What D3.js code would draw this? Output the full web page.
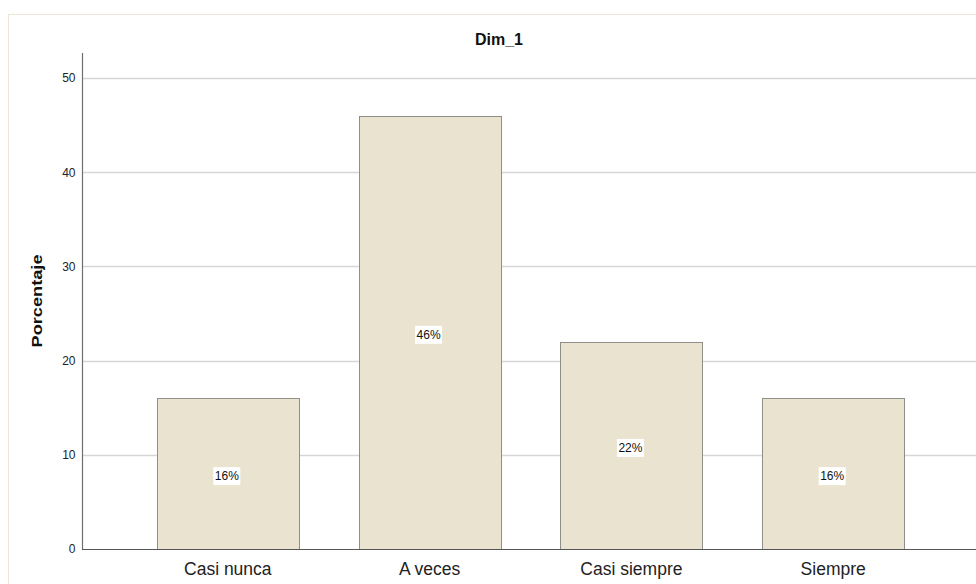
<!DOCTYPE html>
<html>
<head>
<meta charset="utf-8">
<script src="https://cdn.jsdelivr.net/npm/d3@7"></script>
<style>
  html, body { margin: 0; padding: 0; background: #ffffff; }
  svg { display: block; font-family: Arial, "Liberation Sans", sans-serif; }
</style>
</head>
<body>
<svg id="chart" width="976" height="584"></svg>
<script>
// Frequency distribution of Dim_1 (percent of respondents)
const categories = ["Casi nunca", "A veces", "Casi siempre", "Siempre"];
const percents = [16, 46, 22, 16];
const yTicks = [0, 10, 20, 30, 40, 50];

const svg = d3.select("#chart");
const W = 976, H = 584;
const FONT = "Arial, 'Liberation Sans', sans-serif";

// Outer chart frame
svg.append("rect")
  .attr("x", 8.5).attr("y", 14.5)
  .attr("width", 990).attr("height", 600)
  .attr("fill", "#ffffff")
  .attr("stroke", "#ebe6d6")
  .attr("stroke-width", 1);

const plot = { left: 82, right: 979, top: 53, bottom: 549 };

const x = d3.scaleBand()
  .domain(categories)
  .range([plot.left, plot.right])
  .paddingInner(0.297)
  .paddingOuter(0.371);

const y = d3.scaleLinear()
  .domain([0, 50])
  .range([plot.bottom, 78]);

// Horizontal gridlines
svg.append("g")
  .selectAll("line")
  .data(yTicks.filter(t => t > 0))
  .join("line")
  .attr("x1", plot.left).attr("x2", W)
  .attr("y1", d => Math.round(y(d)) + 0.5)
  .attr("y2", d => Math.round(y(d)) + 0.5)
  .attr("stroke", "#d6d6d6")
  .attr("stroke-width", 1.3);

// Bars
svg.append("g")
  .selectAll("rect")
  .data(categories)
  .join("rect")
  .attr("x", d => Math.round(x(d)) + 0.5)
  .attr("y", (d, i) => Math.round(y(percents[i])) + 0.5)
  .attr("width", Math.round(x.bandwidth()))
  .attr("height", (d, i) => Math.round(y(0)) - Math.round(y(percents[i])))
  .attr("fill", "#e9e3cf")
  .attr("stroke", "#8f8f8a")
  .attr("stroke-width", 1);

// Value labels with white boxes
const labels = svg.append("g")
  .selectAll("g")
  .data(categories)
  .join("g")
  .attr("transform", (d, i) =>
    `translate(${x(d) + x.bandwidth() / 2 - 1},${(y(percents[i]) + y(0)) / 2 + 2.5})`);

labels.append("rect")
  .attr("x", -13.5).attr("y", -9)
  .attr("width", 27).attr("height", 18)
  .attr("fill", "#ffffff");

labels.append("text")
  .attr("text-anchor", "middle")
  .attr("dy", "0.36em")
  .attr("font-size", 12)
  .attr("fill", "#111")
  .text((d, i) => percents[i] + "%");

// Y axis
const yAxis = d3.axisLeft(y)
  .tickValues(yTicks)
  .tickSize(0)
  .tickPadding(7)
  .tickFormat(d3.format("d"));

const gy = svg.append("g")
  .attr("transform", `translate(${plot.left + 0.5},0)`)
  .call(yAxis);
gy.select(".domain").remove();
gy.selectAll("text")
  .attr("font-size", 12)
  .attr("font-family", FONT)
  .attr("fill", "#222");

svg.append("line")
  .attr("x1", plot.left + 0.5).attr("x2", plot.left + 0.5)
  .attr("y1", plot.top).attr("y2", plot.bottom + 0.5)
  .attr("stroke", "#6e6e6e").attr("stroke-width", 1.2);

// X axis
const xAxis = d3.axisBottom(x).tickSize(0).tickPadding(0);
const gx = svg.append("g")
  .attr("transform", `translate(0,${plot.bottom + 0.5})`)
  .call(xAxis);
gx.select(".domain")
  .attr("stroke", "#555")
  .attr("stroke-width", 1.2)
  .attr("d", `M${plot.left},0H${W}`);
gx.selectAll("text")
  .attr("y", 25)
  .attr("dy", 0)
  .attr("font-size", 17.5)
  .attr("font-family", FONT)
  .attr("fill", "#222");

// Title
svg.append("text")
  .attr("x", 499).attr("y", 45)
  .attr("text-anchor", "middle")
  .attr("font-size", 16)
  .attr("font-weight", "bold")
  .attr("fill", "#111")
  .text("Dim_1");

// Y axis title
svg.append("text")
  .attr("transform", "translate(42,301) rotate(-90)")
  .attr("text-anchor", "middle")
  .attr("font-size", 15)
  .attr("font-weight", "bold")
  .attr("textLength", 93)
  .attr("lengthAdjust", "spacingAndGlyphs")
  .attr("fill", "#111")
  .text("Porcentaje");
</script>
</body>
</html>
